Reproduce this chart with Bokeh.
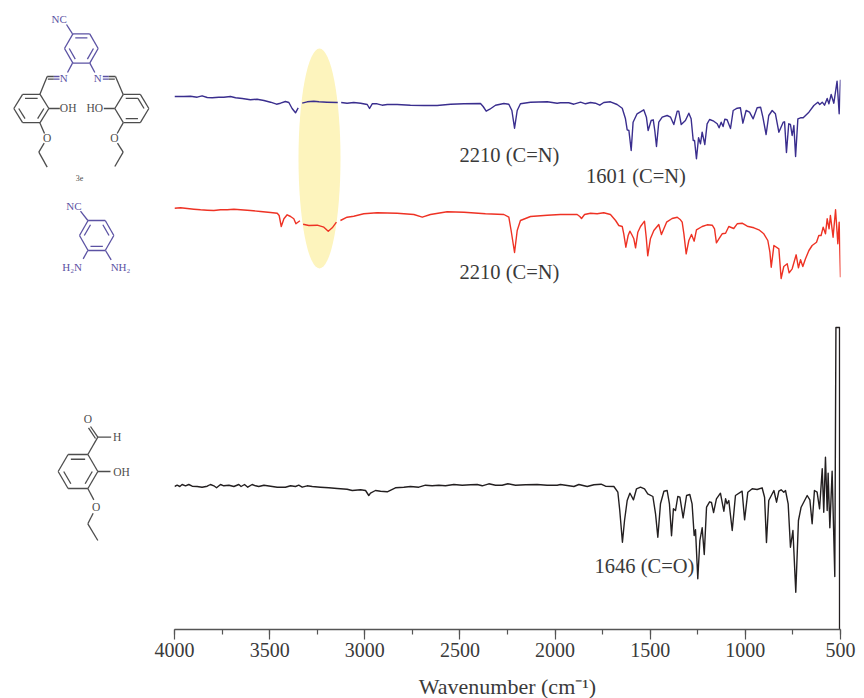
from bokeh.plotting import figure
from bokeh.layouts import row
from bokeh.embed import file_html
from bokeh.resources import INLINE
from bokeh.core.properties import value
from bokeh.models import Range1d, SingleIntervalTicker

nan = float("nan")

# --- spectra: wavenumber (cm-1) and relative intensity ---
blue_wn = [4000,3951,3916,3881,3855,3828,3802,3767,3741,3706,3679,3644,3601,3566,3530,3495,3464,3443,3417,3399,3382,3364,3350,nan,
           3329,3303,3268,3241,3198,3142,nan,3124,3093,3058,3022,2987,2975,2961,2935,2909,2882,2830,2760,2690,2620,2549,2479,2392,2378,
           2362,2343,2313,2269,2243,2227,2213,2199,2182,2129,2041,1989,1972,1928,1901,1866,1840,1814,1788,1765,1744,1709,1674,1647,1630,
           1621,1612,1600,1590,1569,1534,1520,1511,1495,1484,1476,1467,1455,1437,1411,1393,1376,1358,1350,1337,1315,1297,1285,1274,1267,
           1257,1246,1236,1227,1213,1201,1188,1166,1148,1138,1127,1117,1108,1096,1078,1064,1043,1026,1013,996,978,959,938,920,908,891,877,
           859,842,824,801,794,784,772,763,754,745,736,724,710,696,666,640,619,609,596,584,570,561,549,535,518,507,500]
blue_y = [533,533,533.3,532.3,533.7,532,531.7,532.3,532.3,533,531.7,531,529.7,530.3,529,527.3,525.3,526.3,528,527,521,516.7,521.7,nan,
          526.3,527.7,528.3,527.7,527.3,527,nan,527,526.3,527,526.3,525,521,525.7,525.7,524.3,525,525,524.3,524,524,525.3,525.7,526,523,
          518.3,520.3,524.3,526,525.3,519,501.3,519,525.7,527.3,527.7,526.3,526.7,526.7,525.3,527.3,525.7,527,526.3,524.3,527,527.7,525,521.3,510.7,
          499.7,499,479,507.3,515.7,519.7,512.3,499,509,509.7,499,483,507.3,512.3,514,512.3,505,518.3,518.3,505,509,516.3,510.7,489,489,
          470.7,491.7,485.7,497.3,485,505.7,510,508.3,505.7,501.7,507.3,503,510.3,509.7,501,519,521.3,521.7,506.3,519,517.3,510.7,521.7,522.3,512.3,495,514,
          519,515.7,497.3,507.3,507.7,477,505.7,505,494,504,473,510.7,511.7,511.7,517.3,524,527.3,525,527.3,524.3,531,525.7,535,526.3,548.3,515.7,549.7]

red_wn = [4000,3968,3933,3898,3863,3828,3793,3758,3723,3688,3653,3601,3548,3495,3460,3450,3439,3425,3408,3390,3373,3362,3341,nan,
          3324,3294,3250,3215,3192,3171,3149,nan,3128,3093,3058,3005,2935,2830,2742,2698,2655,2567,2479,2366,2269,2243,2231,2213,2199,2182,2129,2041,
          1972,1884,1870,1861,1845,1814,1779,1744,1709,1682,1665,1647,1639,1628,1616,1607,1597,1586,1577,1565,1551,1530,1521,1513,1499,1481,1455,1441,
          1414,1385,1358,1341,1332,1323,1311,1297,1283,1269,1257,1227,1201,1174,1162,1152,1139,1122,1104,1087,1061,1043,1017,990,955,929,903,882,871,864,
          850,824,812,798,780,770,754,733,721,710,698,684,666,649,626,614,602,591,579,570,560,553,539,526,514,507,500]
red_y = [421.3,421.7,421,420.3,419.7,419.3,419,419.7,419.7,420.3,419.7,419,418,417,416.3,414,403,410.7,414.7,413,410.7,405.7,408.7,nan,
         405.3,404,404.3,402.3,398.3,401.7,407.3,nan,409,412.3,413.3,415.7,416.7,416.3,415,412.3,415,417.7,417.3,415.7,415,412.3,399,377,399,409,413,414.3,
         415,415,413,411,415,416.3,415.7,416.7,415,409,404,403,395.7,382.3,394,398.3,395,390.7,381.7,397.3,403,408.3,392.3,373.7,390.7,399,405,395,
         407.3,411,412.3,409.7,407.3,395.7,375.7,389,395,388.3,399.7,403,404.7,404.3,400.7,386.7,390.7,395.7,396.3,403,401,405.7,406.3,403.3,401.7,399.7,395.7,389,377.3,362.3,
         384,380.7,351,363,365.7,356.7,360.7,374.7,361.7,369.7,363,370.7,379,384,387.3,394,394,402.3,395.7,410.7,400.7,414,392.3,419.7,385.7,407.3,352.3]

black_wn = [4000,3986,3972,3960,3942,3925,3907,3881,3855,3828,3811,3793,3779,3758,3741,3714,3688,3662,3650,3632,3615,3592,3574,3557,3530,3495,3460,3417,3390,3364,3347,3329,3303,3276,3233,3189,3145,3093,3066,3022,2996,2979,2970,
            2944,2917,2882,2839,2795,2760,2716,2681,2646,2611,2576,2532,2488,2444,2409,2383,2348,2313,2278,2248,2208,2155,2094,2042,1989,
            1972,1936,1901,1875,1831,1796,1758,1735,1691,1670,1660,1646,1635,1621,1607,1600,1588,1572,1551,1530,1513,1486,1472,1460,1446,1428,1411,1399,1388,1378,1367,1355,1344,1327,1309,1292,1280,1269,1262,1250,1239,1227,1216,1204,1188,1178,1167,1152,1131,1113,1104,1096,1087,1069,1052,1017,1004,987,964,938,912,899,889,877,850,836,824,812,798,789,775,763,750,735,721,707,675,661,649,637,623,610,596,588,579,570,565,556,544,530,524,505,505]
black_y = [143,144.3,143,145,143.7,145,143.3,143,142.3,143.3,145,143.7,141.7,145,143.7,144.3,143,145,143,145,142.3,145,143.7,143,144.3,143.3,142.3,142.3,143.7,143,144.3,142.3,143.7,143,142.3,141.7,141,140.3,139,139.7,139,134,136.3,
           139,138.3,137.7,141.7,142.3,143,142.3,144.3,143.7,144.3,143.7,145,144.3,144.7,145,143.7,145.7,144.3,144.3,145.7,144.3,144.7,145,144.3,144.3,
           145,144,143,145,143,144.7,145.3,143.3,143,137.3,119,87.3,109,129,136.3,134,129.7,140.7,142.3,140.7,135.7,133,115.7,92.3,125.7,138.3,139,125.7,93.7,120.7,119,133,132.3,111.7,134,135,125.7,94,99.7,50.7,89,101.7,75,122.3,127.7,127,117,130.7,136.3,118.3,130.7,125.7,129,99,134,138.3,109.7,137.3,140.7,140,141.7,132.3,87,129,139,127.3,138.3,139.7,137.3,139,125.7,82.3,99,37.3,109,122.3,134,129.7,105.7,139,137.3,120.7,160.7,117.3,172.3,119,156.3,101.7,158.3,53,302,302,0]

x_ticks_interval = 500
x_title = "Wavenumber (cm\u207b\u00b9)"
peak_labels = ["2210 (C=N)", "1601 (C=N)", "2210 (C=N)", "1646 (C=O)"]

SERIF = "Liberation Serif"
TXT = "#3a3a3a"
BLUE = "#3a2e8e"
RED = "#ee3224"
BLK = "#231f20"
CHEM_BLUE = "#5b52a3"
CHEM_GRAY = "#4d4d4d"

PX_PER_WN = 666 / 3500
def X(px):
    return 4000 - (px - 174) / PX_PER_WN
def Y(py):
    return 629 - py

p = figure(width=714, height=698, output_backend="svg", toolbar_location=None,
           x_range=Range1d(4000, 500), y_range=Range1d(0, 629),
           min_border_left=24, min_border_right=24, min_border_top=0, min_border_bottom=69,
           frame_width=666, frame_height=629, y_axis_location=None, outline_line_color=None)
p.grid.visible = False

ax = p.xaxis[0]
ax.ticker = SingleIntervalTicker(interval=x_ticks_interval, num_minor_ticks=2)
ax.axis_label = x_title
ax.axis_label_text_font = SERIF
ax.axis_label_text_font_style = "normal"
ax.axis_label_text_font_size = "22px"
ax.axis_label_text_color = TXT
ax.axis_label_standoff = 14
ax.major_label_text_font = SERIF
ax.major_label_text_font_size = "20px"
ax.major_label_text_color = TXT
ax.major_label_standoff = 3
ax.axis_line_color = "#555555"
ax.axis_line_width = 1.5
ax.major_tick_line_color = "#555555"
ax.minor_tick_line_color = "#555555"
ax.major_tick_line_width = 1.2
ax.minor_tick_line_width = 1.2
ax.major_tick_in = 0
ax.major_tick_out = 10
ax.minor_tick_in = 0
ax.minor_tick_out = 5

# highlighted band
p.ellipse(x=[X(319)], y=[Y(158)], width=[42 / PX_PER_WN], height=[220],
          fill_color="#fdf4bd", line_color=None)

p.line(blue_wn, blue_y, line_color=BLUE, line_width=1.4, line_join="round")
p.line(red_wn, red_y, line_color=RED, line_width=1.4, line_join="round")
p.line(black_wn, black_y, line_color=BLK, line_width=1.4, line_join="round")

# peak annotations
p.text(x=[X(509), X(635.5), X(509), X(644)], y=[Y(154), Y(175), Y(271), Y(565)], text=peak_labels,
       text_font=value(SERIF), text_font_size="20.5px", text_color=TXT,
       text_align="center", text_baseline="middle")

# --- chemical structures in a narrow panel, in picture pixels (from 3x crops) ---
m = figure(width=150, height=698, output_backend="svg", toolbar_location=None,
           x_range=Range1d(0, 150), y_range=Range1d(629, 0),
           min_border_left=0, min_border_right=0, min_border_top=0, min_border_bottom=69,
           frame_width=150, frame_height=629,
           x_axis_location=None, y_axis_location=None, outline_line_color=None)
m.grid.visible = False

segs = {CHEM_BLUE: [], CHEM_GRAY: []}
def bond(color, *pts):
    for (a, b), (c, d) in zip(pts[:-1], pts[1:]):
        segs[color].append((a / 3, b / 3, c / 3, d / 3))

def ring(color, cx, cy, rx, ry, doubles):
    v = [(cx - rx / 2, cy - ry), (cx + rx / 2, cy - ry), (cx + rx, cy),
         (cx + rx / 2, cy + ry), (cx - rx / 2, cy + ry), (cx - rx, cy)]
    for i in range(6):
        a, b = v[i], v[(i + 1) % 6]
        bond(color, a, b)
        if i in doubles:
            f = 0.72
            ia = (cx + (a[0] - cx) * f, cy + (a[1] - cy) * f)
            ib = (cx + (b[0] - cx) * f, cy + (b[1] - cy) * f)
            bond(color, ia, ib)

# 3e
ring(CHEM_BLUE, 242.5, 144, 50.5, 44, {0, 2, 4})
ring(CHEM_GRAY, 92.5, 324, 52.5, 42.5, {0, 2, 4})
ring(CHEM_GRAY, 394, 324, 51, 42.5, {1, 3, 0})
bond(CHEM_BLUE, (198, 72), (216, 100))
bond(CHEM_BLUE, (216, 188), (201, 216))
bond(CHEM_BLUE, (268, 188), (283, 216))
bond(CHEM_BLUE, (160, 228), (177, 228))
bond(CHEM_BLUE, (160, 236), (177, 236))
bond(CHEM_BLUE, (307, 228), (325, 228))
bond(CHEM_BLUE, (307, 236), (325, 236))
bond(CHEM_GRAY, (160, 228), (140, 228), (118, 282))
bond(CHEM_GRAY, (160, 236), (142, 236))
bond(CHEM_GRAY, (325, 228), (345, 228), (368, 282))
bond(CHEM_GRAY, (325, 236), (343, 236))
bond(CHEM_GRAY, (145, 324), (178, 324))
bond(CHEM_GRAY, (343, 324), (310, 324))
bond(CHEM_GRAY, (118, 367), (132, 399))
bond(CHEM_GRAY, (131, 428), (115, 455), (140, 500))
bond(CHEM_GRAY, (368, 367), (350, 399))
bond(CHEM_GRAY, (351, 428), (368, 455), (343, 498))
# diamine
ring(CHEM_BLUE, 288.5, 705, 51.5, 45, {1, 3, 5})
bond(CHEM_BLUE, (240, 632), (262, 660))
bond(CHEM_BLUE, (262, 750), (248, 775))
bond(CHEM_BLUE, (315, 750), (332, 778))
# aldehyde
ring(CHEM_GRAY, 232.5, 1413, 59.5, 51, {0, 2, 4})
bond(CHEM_GRAY, (262, 1362), (292, 1310), (332, 1310))
bond(CHEM_GRAY, (292, 1310), (270, 1278))
bond(CHEM_GRAY, (285, 1314), (264, 1282))
bond(CHEM_GRAY, (292, 1413), (330, 1413))
bond(CHEM_GRAY, (262, 1464), (280, 1498))
bond(CHEM_GRAY, (278, 1538), (262, 1570), (292, 1620))

for color, lst in segs.items():
    m.segment([s[0] for s in lst], [s[1] for s in lst],
              [s[2] for s in lst], [s[3] for s in lst],
              line_color=color, line_width=1.3)

def chem_text(items, color, size):
    m.text(x=[i[0] / 3 for i in items], y=[i[1] / 3 for i in items], text=[i[2] for i in items],
           text_font=value(SERIF), text_font_size=size, text_color=color,
           text_align="center", text_baseline="middle")

chem_text([(176, 55, "NC"), (190, 232, "N"), (292, 232, "N"),
           (220, 617, "NC"), (215, 800, "H\u2082N"), (360, 798, "NH\u2082")], CHEM_BLUE, "11px")
chem_text([(203, 323, "OH"), (283, 323, "HO"), (140, 413, "O"), (342, 413, "O"),
           (262, 1255, "O"), (350, 1310, "H"), (363, 1413, "OH"), (287, 1520, "O")], CHEM_GRAY, "11.5px")
chem_text([(237, 533, "3e")], CHEM_GRAY, "8px")

open("out.html", "w").write(file_html(row(m, p), INLINE))
